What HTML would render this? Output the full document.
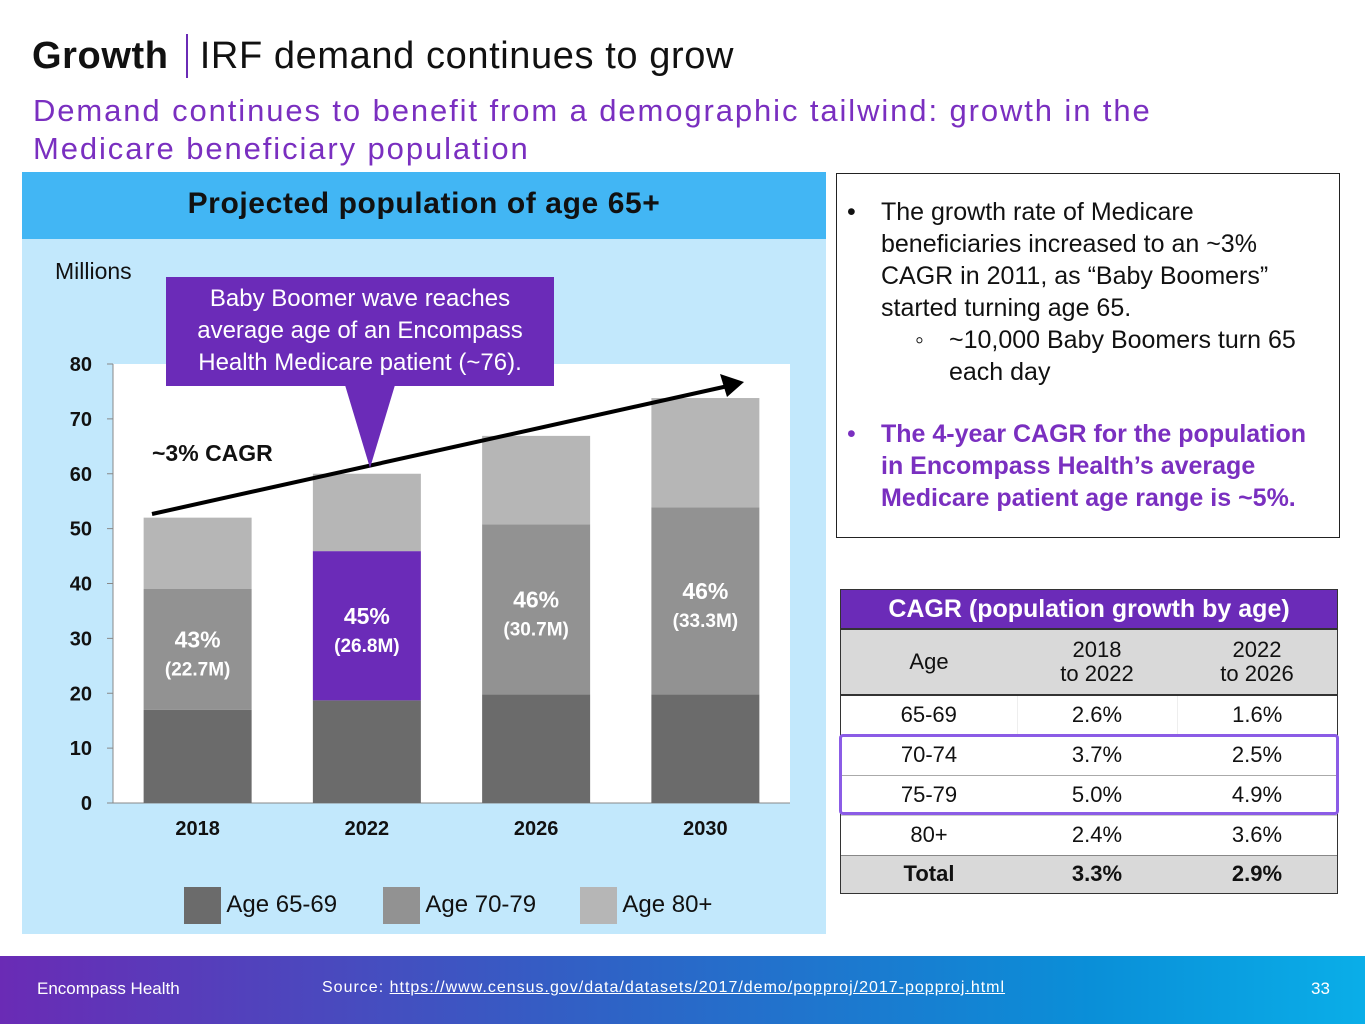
<!DOCTYPE html>
<html><head><meta charset="utf-8">
<style>
*{margin:0;padding:0;box-sizing:border-box}
body{width:1365px;height:1024px;position:relative;background:#fff;font-family:"Liberation Sans","DejaVu Sans",sans-serif;overflow:hidden}
.abs{position:absolute}
table{border-collapse:collapse}
</style></head><body>
<div class="abs" style="left:32px;top:34px;font-size:38px;color:#111;white-space:nowrap;letter-spacing:0.6px"><b>Growth</b> <span style="display:inline-block;width:2px;height:44px;background:#6a2bb5;vertical-align:-10px;margin:0 12px 0 6px"></span>IRF demand continues to grow</div>
<div class="abs" style="left:33px;top:92px;font-size:31px;line-height:38px;color:#7a2fc0;width:1250px;letter-spacing:1.9px;white-space:nowrap">Demand continues to benefit from a demographic tailwind: growth in the<br>Medicare beneficiary population</div>

<div class="abs" style="left:22px;top:172px;width:804px;height:762px;background:#c2e8fc"></div>
<div class="abs" style="left:22px;top:172px;width:804px;height:67px;background:#42b6f4;font-weight:bold;font-size:30px;text-align:center;line-height:64px;color:#111;letter-spacing:0.6px">Projected population of age 65+</div>
<div class="abs" style="left:55px;top:258px;font-size:23px;color:#111">Millions</div>

<svg class="abs" style="left:0;top:0" width="1365" height="1024" id="chart">
<rect x="113" y="364" width="677" height="439" fill="#fff"/>
<g id="marks"></g>
</svg>

<div class="abs" style="left:166px;top:277px;width:388px;height:109px;background:#6b2bb8;color:#fff;font-size:24px;line-height:32px;text-align:center;padding-top:6px">Baby Boomer wave reaches<br>average age of an Encompass<br>Health Medicare patient (~76).</div>
<svg class="abs" style="left:0;top:0" width="1365" height="1024"><polygon points="345,385 395,385 370,468" fill="#6b2bb8"/></svg>
<div class="abs" style="left:152px;top:440px;font-size:23px;font-weight:bold;color:#111">~3% CAGR</div>

<div class="abs" style="left:184px;top:887px;font-size:24px;color:#111">
<span class="abs" style="left:0;top:0;white-space:nowrap"><span style="display:inline-block;width:37px;height:37px;background:#6b6b6b;vertical-align:middle"></span> Age 65-69</span>
<span class="abs" style="left:199px;top:0;white-space:nowrap"><span style="display:inline-block;width:37px;height:37px;background:#929292;vertical-align:middle"></span> Age 70-79</span>
<span class="abs" style="left:396px;top:0;white-space:nowrap"><span style="display:inline-block;width:37px;height:37px;background:#b6b6b6;vertical-align:middle"></span> Age 80+</span>
</div>

<div class="abs" style="left:836px;top:173px;width:504px;height:365px;border:1.5px solid #222;font-size:25px;line-height:32px;color:#111">
<div style="position:absolute;left:10px;top:22px">•</div>
<div style="position:absolute;left:44px;top:22px;width:450px">The growth rate of Medicare beneficiaries increased to an ~3% CAGR in 2011, as “Baby Boomers” started turning age 65.</div>
<div style="position:absolute;left:78px;top:150px">◦</div>
<div style="position:absolute;left:112px;top:150px;width:380px">~10,000 Baby Boomers turn 65 each day</div>
<div style="position:absolute;left:10px;top:244px;color:#7a2fc0">•</div>
<div style="position:absolute;left:44px;top:244px;width:446px;color:#7a2fc0;font-weight:bold">The 4-year CAGR for the population in Encompass Health’s average Medicare patient age range is ~5%.</div>
</div>

<div class="abs" style="left:840px;top:589px;width:498px;border:1.5px solid #333;font-size:22px;color:#111">
<div style="height:38px;background:#6b2bb8;color:#fff;font-weight:bold;font-size:25px;text-align:center;line-height:38px">CAGR (population growth by age)</div>
<table style="width:100%;text-align:center">
<tr style="height:66px;background:#d9d9d9;line-height:24px;border-top:2px solid #333;border-bottom:2px solid #333"><td style="width:176px">Age</td><td style="width:160px">2018<br>to 2022</td><td>2022<br>to 2026</td></tr>
<tr style="height:40px;border-bottom:1px solid #ccc"><td style="border-right:1px solid #eee">65-69</td><td style="border-right:1px solid #eee">2.6%</td><td>1.6%</td></tr>
<tr style="height:40px;border-bottom:1px solid #aaa"><td>70-74</td><td>3.7%</td><td>2.5%</td></tr>
<tr style="height:40px;border-bottom:1px solid #ccc"><td>75-79</td><td>5.0%</td><td>4.9%</td></tr>
<tr style="height:40px;border-bottom:1px solid #888"><td>80+</td><td>2.4%</td><td>3.6%</td></tr>
<tr style="height:38px;background:#d9d9d9;font-weight:bold"><td>Total</td><td>3.3%</td><td>2.9%</td></tr>
</table>
</div>
<div class="abs" style="left:839px;top:734px;width:500px;height:81px;border:3.5px solid #8b5ce6;border-radius:4px"></div>

<div class="abs" style="left:0;top:956px;width:1365px;height:68px;background:linear-gradient(90deg,#6a2bb5,#2e63c6 45%,#0a8fd8 80%,#0aaee8);color:#fff;font-size:17px">
<span class="abs" style="left:37px;top:23px">Encompass Health</span>
<span class="abs" style="left:322px;top:23px;font-size:16px;letter-spacing:1px;white-space:nowrap">Source: <u>https://www.census.gov/data/datasets/2017/demo/popproj/2017-popproj.html</u></span>
<span class="abs" style="left:1311px;top:23px">33</span>
</div>

<script>
const categories=["2018","2022","2026","2030"];
const age6569=[17,18.7,19.8,19.8];
const age7079=[22,27.2,31,34.1];
const age80=[13,14.1,16.1,19.9];
const shareLabels=["43%","45%","46%","46%"];
const countLabels=["(22.7M)","(26.8M)","(30.7M)","(33.3M)"];
const yTicks=[0,10,20,30,40,50,60,70,80];
const highlightIndex=1;

const NS="http://www.w3.org/2000/svg";
const g=document.getElementById('marks');
const y0=803,yTop=364,yMax=80;
const y=v=>y0-(v/yMax)*(y0-yTop);
const xL=113,xR=790,band=(xR-xL)/categories.length;
const xc=i=>xL+band*(i+0.5);
const bw=108;
function mk(tag,attrs){const e=document.createElementNS(NS,tag);for(const k in attrs)e.setAttribute(k,attrs[k]);g.appendChild(e);return e;}

const ax=mk('line',{x1:xL,x2:xL,y1:yTop,y2:y0,stroke:'#888'});


const bx=mk('line',{x1:xL,x2:xR,y1:y0,y2:y0,stroke:'#888'});


yTicks.forEach(t=>{
  const tk=mk('line',{x1:xL-6,x2:xL,y1:y(t),y2:y(t),stroke:'#888'});
  
  
  const tx=mk('text',{x:92,y:y(t)+7,'text-anchor':'end','font-size':20,'font-weight':'bold',fill:'#111','font-family':'Liberation Sans, sans-serif'});
  tx.textContent=t;
  
  
});
categories.forEach((c,i)=>{
  const x=xc(i)-bw/2;
  const a=age6569[i],b=age7079[i],d=age80[i];
  const r1=mk('rect',{x:x,width:bw,y:y(a),height:y0-y(a),fill:'#6b6b6b'});
  
  
  const r2=mk('rect',{x:x,width:bw,y:y(a+b),height:y(a)-y(a+b),fill:i===highlightIndex?'#6b2bb8':'#929292'});
  
  
  const r3=mk('rect',{x:x,width:bw,y:y(a+b+d),height:y(a+b)-y(a+b+d),fill:'#b6b6b6'});
  
  
  const mid=(y(a)+y(a+b))/2;
  const l1=mk('text',{x:xc(i),y:mid-2,'text-anchor':'middle','font-size':23,'font-weight':'bold',fill:'#fff','font-family':'Liberation Sans, sans-serif'});
  l1.textContent=shareLabels[i];
  
  
  const l2=mk('text',{x:xc(i),y:mid+26,'text-anchor':'middle','font-size':19,'font-weight':'bold',fill:'#fff','font-family':'Liberation Sans, sans-serif'});
  l2.textContent=countLabels[i];
  
  
  const xt=mk('text',{x:xc(i),y:835,'text-anchor':'middle','font-size':20,'font-weight':'bold',fill:'#111','font-family':'Liberation Sans, sans-serif'});
  xt.textContent=c;
  
  
});
const ar=mk('line',{x1:152,y1:514,x2:728,y2:386,stroke:'#000','stroke-width':4});


const ah=mk('polygon',{points:'744,382 720,374 727,397',fill:'#000'});


</script>
</body></html>
